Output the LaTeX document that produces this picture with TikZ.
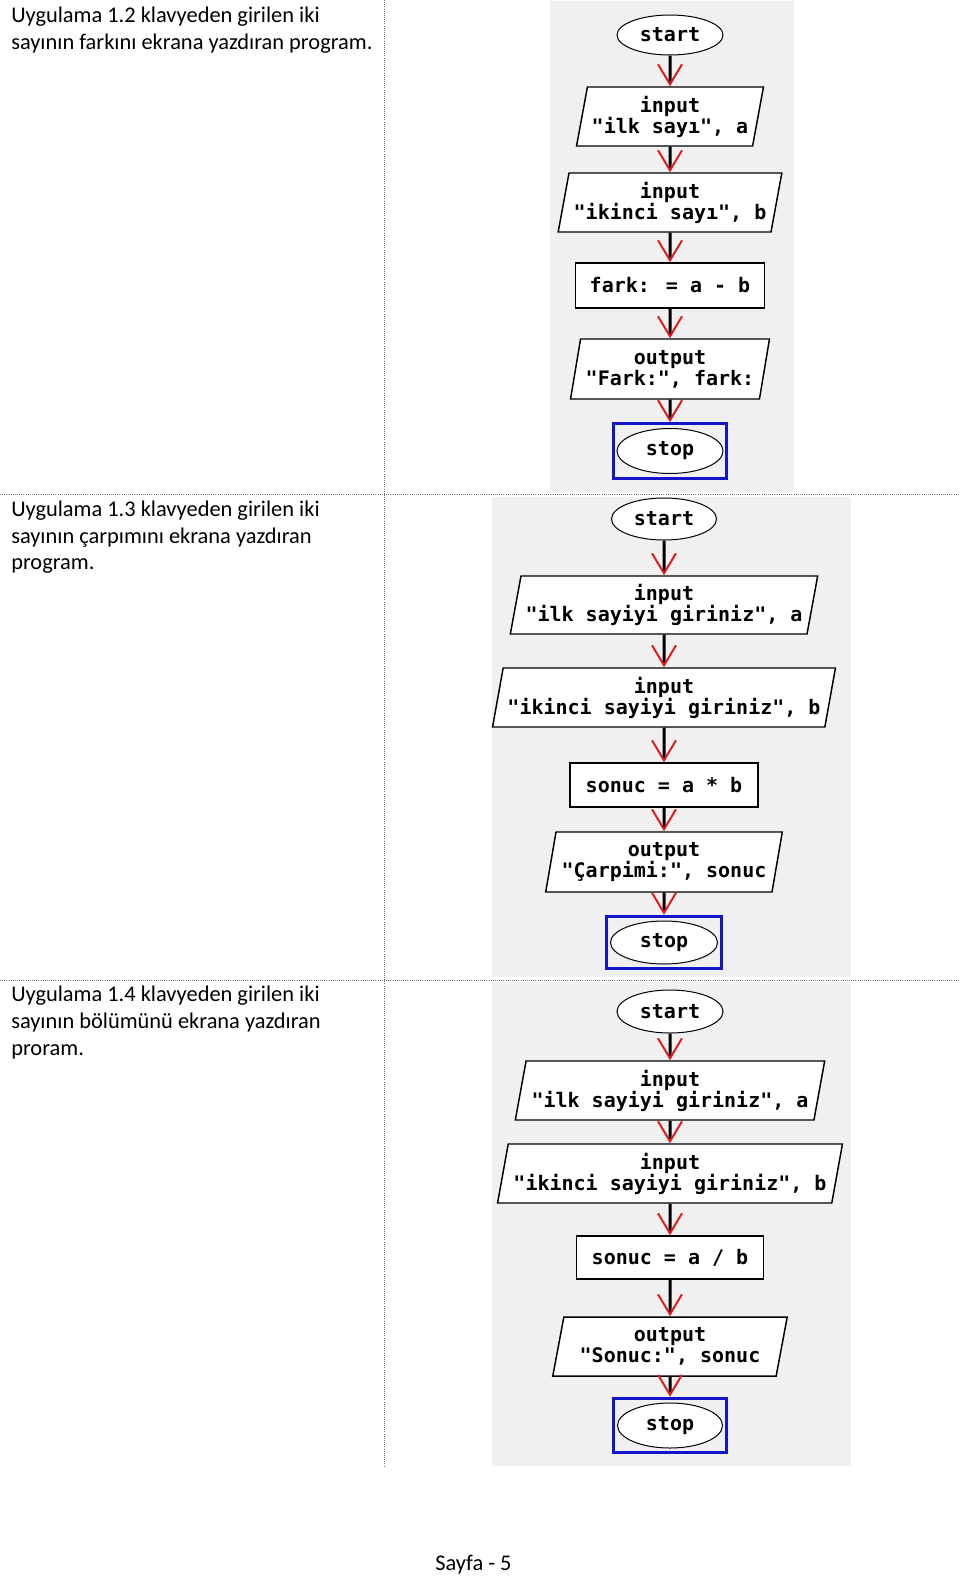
\documentclass[tikz,border=0pt]{standalone}
\usepackage{fontspec}
\setmainfont{Carlito}
\newfontfamily\fcmono{DejaVu Sans Mono}
\usetikzlibrary{shapes.geometric,arrows.meta,fit}
\definecolor{panel}{RGB}{240,240,240}
\definecolor{arrowred}{RGB}{220,30,30}
\definecolor{stopblue}{RGB}{20,20,200}
\definecolor{rulegray}{RGB}{110,110,110}
\begin{document}
\begin{tikzpicture}[x=0.75pt,y=-0.75pt,
 fc/.style={font=\fcmono\bfseries\fontsize{15pt}{15.75pt}\selectfont, align=center},
 term/.style={fc, ellipse, draw, line width=0.75pt, fill=white, inner sep=0pt},
 io/.style={fc, trapezium, trapezium left angle=76, trapezium right angle=104, trapezium stretches=true, draw, line width=1.1pt, fill=white, inner xsep=0pt, inner ysep=0pt, minimum height=44.25pt},
 proc/.style={fc, rectangle, draw, line width=1.1pt, fill=white, inner sep=0pt},
 stopbox/.style={draw=stopblue, line width=2.25pt, inner xsep=2.6pt, inner ysep=3.2pt},
 flow/.style={line width=2.25pt, -{Straight Barb[color=arrowred, line width=1.5pt, length=15pt, width=18pt]}},
 head/.style={font=\fontsize{16.8pt}{20pt}\selectfont, anchor=base west, inner sep=0pt},
 sep/.style={draw=rulegray, line width=0.6pt, densely dotted},
 wd/.style={minimum width=#1*0.75pt},
 ht/.style={minimum height=#1*0.75pt},
]
\useasboundingbox[fill=white] (0,0) rectangle (960,1578);

% panels
\fill[panel] (550,1) rectangle (794,492);
\fill[panel] (492,497) rectangle (851,977);
\fill[panel] (492,982) rectangle (851,1466);

% table rules
\draw[sep] (384,0) -- (384,1466);
\draw[sep] (0,494) -- (960,494);
\draw[sep] (0,980) -- (960,980);

% headings
\node[head] (h1a) at (11,22) {Uygulama 1.2 klavyeden girilen iki};
\node[head] (h1b) at (11,49) {sayının farkını ekrana yazdıran program.};
\node[head] (h2a) at (11,516) {Uygulama 1.3 klavyeden girilen iki};
\node[head] (h2b) at (11,543) {sayının çarpımını ekrana yazdıran};
\node[head] (h2c) at (11,569.5) {program.};
\node[head] (h3a) at (11,1001.5) {Uygulama 1.4 klavyeden girilen iki};
\node[head] (h3b) at (11,1028.5) {sayının bölümünü ekrana yazdıran};
\node[head] (h3c) at (11,1055.5) {proram.};
\node[head] (foot) at (435,1570) {Sayfa - 5};

% chart 1
\node[term, wd=106, ht=40] (a1) at (670,35) {start};
\node[io, wd=187] (a2) at (670,116.5) {input\\"ilk sayı", a};
\node[io, wd=224] (a3) at (670,202.5) {input\\"ikinci sayı", b};
\node[proc, wd=189, ht=45] (a4) at (670,285.5) {fark: = a - b};
\node[io, wd=199, ht=60] (a5) at (670,369) {output\\"Fark:", fark:};
\node[term, wd=106, ht=45] (a6e) at (670,451) {stop};
\node[stopbox, fit=(a6e)] (a6) {};
\draw[flow] (a1) -- (a2);
\draw[flow] (a2) -- (a3);
\draw[flow] (a3) -- (a4);
\draw[flow] (a4) -- (a5);
\draw[flow] (a5) -- (a6);

% chart 2
\node[term, wd=105, ht=42] (b1) at (664,519) {start};
\node[io, wd=308, ht=58] (b2) at (664,605) {input\\"ilk sayiyi giriniz", a};
\node[io, wd=344] (b3) at (664,697.5) {input\\"ikinci sayiyi giriniz", b};
\node[proc, wd=188, ht=44] (b4) at (664,785) {sonuc = a * b};
\node[io, wd=237, ht=60] (b5) at (664,862) {output\\"Çarpimi:", sonuc};
\node[term, wd=107, ht=43] (b6e) at (664,942.5) {stop};
\node[stopbox, fit=(b6e)] (b6) {};
\draw[flow] (b1) -- (b2);
\draw[flow] (b2) -- (b3);
\draw[flow] (b3) -- (b4);
\draw[flow] (b4) -- (b5);
\draw[flow] (b5) -- (b6);

% chart 3
\node[term, wd=106, ht=43] (c1) at (670,1011.5) {start};
\node[io, wd=310] (c2) at (670,1090.5) {input\\"ilk sayiyi giriniz", a};
\node[io, wd=346] (c3) at (670,1173.5) {input\\"ikinci sayiyi giriniz", b};
\node[proc, wd=187, ht=43] (c4) at (670,1257.5) {sonuc = a / b};
\node[io, wd=235] (c5) at (670,1346.5) {output\\"Sonuc:", sonuc};
\node[term, wd=105, ht=45] (c6e) at (670,1425.5) {stop};
\node[stopbox, fit=(c6e)] (c6) {};
\draw[flow] (c1) -- (c2);
\draw[flow] (c2) -- (c3);
\draw[flow] (c3) -- (c4);
\draw[flow] (c4) -- (c5);
\draw[flow] (c5) -- (c6);
\end{tikzpicture}
\end{document}
